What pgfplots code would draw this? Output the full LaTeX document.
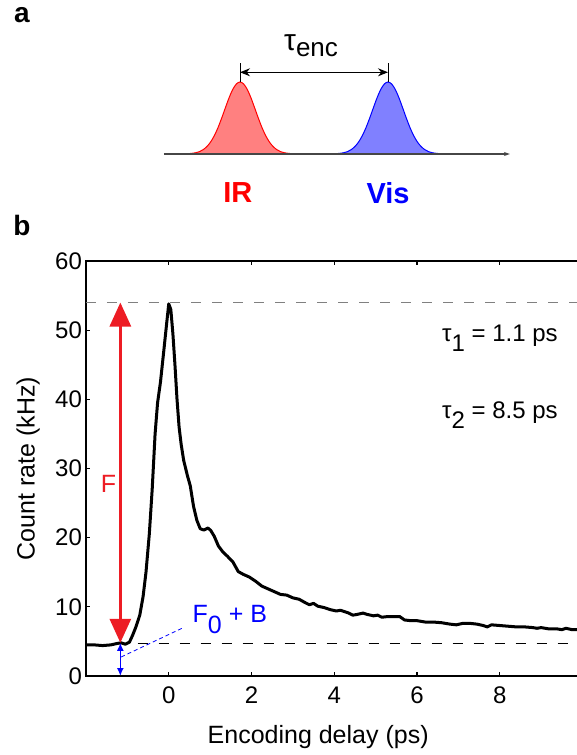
\documentclass[border=0pt]{standalone}
\usepackage{fontspec}
\setmainfont{Liberation Sans}
\usepackage{pgfplots}
\pgfplotsset{compat=1.18}
\usetikzlibrary{arrows.meta}
\definecolor{arrred}{RGB}{237,28,36}
\definecolor{irfill}{RGB}{255,128,128}
\definecolor{visfill}{RGB}{128,128,255}
\definecolor{basegray}{RGB}{70,70,70}
\begin{document}
\begin{tikzpicture}
\path[use as bounding box] (0,0) rectangle (288.5pt,-377.5pt);
\node[font=\bfseries\fontsize{14}{16}\selectfont] at (11pt,-7.5pt) {a};
\node[font=\bfseries\fontsize{14}{16}\selectfont] at (11pt,-112.5pt) {b};
% panel a
\begin{axis}[
  at={(75.6pt,-84.2pt)}, anchor=south west,
  scale only axis, x=74pt, y=36pt,
  xmin=-0.6, xmax=2, ymin=-0.2, ymax=1.5,
  hide axis, clip=false]
\addplot[draw=red, fill=irfill, line width=0.5pt, smooth] coordinates {
(-0.45,0) (-0.4,0.001) (-0.35,0.004) (-0.3,0.017) (-0.275,0.032) (-0.25,0.059) (-0.225,0.101) (-0.2,0.163) (-0.175,0.249) (-0.15,0.360) (-0.125,0.492) (-0.1,0.635) (-0.075,0.775) (-0.05,0.893) (-0.025,0.972) (0,1)
(0.025,0.972) (0.05,0.893) (0.075,0.775) (0.1,0.635) (0.125,0.492) (0.15,0.360) (0.175,0.249) (0.2,0.163) (0.225,0.101) (0.25,0.059) (0.275,0.032) (0.3,0.017) (0.35,0.004) (0.4,0.001) (0.5,0)} \closedcycle;
\addplot[draw=blue, fill=visfill, line width=0.5pt, smooth] coordinates {
(0.5,0) (0.6,0.001) (0.65,0.004) (0.7,0.017) (0.725,0.032) (0.75,0.059) (0.775,0.101) (0.8,0.163) (0.825,0.249) (0.85,0.360) (0.875,0.492) (0.9,0.635) (0.925,0.775) (0.95,0.893) (0.975,0.972) (1,1)
(1.025,0.972) (1.05,0.893) (1.075,0.775) (1.1,0.635) (1.125,0.492) (1.15,0.360) (1.175,0.249) (1.2,0.163) (1.225,0.101) (1.25,0.059) (1.275,0.032) (1.3,0.017) (1.35,0.004) (1.4,0.001) (1.6,0)} \closedcycle;
\addplot[basegray, line width=0.6pt, -{Stealth[length=3pt,width=2pt]}] coordinates {(-0.514,0) (1.824,0)};
\addplot[black, line width=0.5pt] coordinates {(0,1) (0,1.27)};
\addplot[black, line width=0.5pt] coordinates {(1,1) (1,1.27)};
\addplot[black, line width=0.5pt, {Stealth[length=5pt,width=4pt]}-{Stealth[length=5pt,width=4pt]}] coordinates {(0,1.135) (1,1.135)};
\node[anchor=base, inner sep=0, font=\fontsize{15}{17}\selectfont] at (axis cs:0.48,1.44) {τ\raisebox{-3pt}{\fontsize{13}{15}\selectfont enc}};
\node[red, font=\bfseries\fontsize{14.5}{17}\selectfont] at (axis cs:-0.014,-0.54) {IR};
\node[blue, font=\bfseries\fontsize{14.5}{17}\selectfont] at (axis cs:1.0,-0.54) {Vis};
\end{axis}
% panel b
\begin{axis}[
  at={(43pt,-338pt)}, anchor=south west,
  scale only axis, width=247pt, height=207.5pt,
  xmin=-2, xmax=9.94, ymin=0, ymax=60,
  xtick={0,2,4,6,8}, ytick={0,10,20,30,40,50,60},
  ytick pos=left,
  tick align=inside, major tick length=2pt,
  axis line style={line width=0.6pt},
  every tick/.style={line width=0.6pt, black},
  ticklabel style={font=\fontsize{12}{14}\selectfont},
  /pgf/number format/assume math mode=true,
  xticklabel shift=2pt, yticklabel shift=-1.5pt,
  xlabel={Encoding delay (ps)}, ylabel={Count rate (kHz)},
  label style={font=\fontsize{12.5}{15}\selectfont},
  xlabel style={at={(axis description cs:0.47,-0.147)}, anchor=center},
  ylabel style={at={(axis description cs:-0.117,0.5)}, anchor=center},
  clip=false]
\addplot[gray, line width=0.5pt, dash pattern=on 5pt off 5.5pt] coordinates {(-2,54) (9.94,54)};
\addplot[black, line width=0.5pt, dash pattern=on 5pt off 5.5pt] coordinates {(-0.75,4.7) (9.94,4.7)};
\addplot[black, line width=1.5pt, line join=round] coordinates {
(-2.0,4.5) (-1.8,4.5) (-1.6,4.4) (-1.4,4.5) (-1.25,4.7) (-1.15,4.8) (-1.05,4.6) (-0.95,4.9)
(-0.88,5.8) (-0.8,7.0) (-0.7,8.8) (-0.62,11.5) (-0.55,15) (-0.47,20.5) (-0.4,27) (-0.33,35)
(-0.27,39.5) (-0.2,42.5) (-0.12,47) (-0.05,51) (0.0,53.8) (0.05,53) (0.1,49.5) (0.15,45)
(0.2,40) (0.25,36) (0.3,33.5) (0.36,31.2) (0.45,29) (0.52,27.5) (0.6,24.5) (0.68,22.5)
(0.76,21.3) (0.85,21.1) (0.95,21.4) (1.02,21.0) (1.1,20.2) (1.2,18.8) (1.3,18.0) (1.42,17.3)
(1.55,16.5) (1.68,15.1) (1.8,14.7) (1.95,14.3) (2.1,13.7) (2.25,13.0) (2.4,12.6) (2.55,12.2)
(2.7,11.8) (2.85,11.7) (3.0,11.3) (3.15,11.1) (3.3,10.6) (3.4,10.3) (3.5,10.5) (3.6,10.1)
(3.75,9.9) (3.9,9.6) (4.05,9.4) (4.15,9.5) (4.25,9.3) (4.35,9.1) (4.45,8.8) (4.55,8.9)
(4.7,9.1) (4.8,8.9) (4.95,8.7) (5.05,8.8) (5.15,8.5) (5.3,8.6) (5.45,8.6) (5.58,8.6)
(5.7,8.1) (5.85,8.0) (6.0,8.0) (6.2,7.8) (6.4,7.8) (6.6,7.7) (6.8,7.5) (6.95,7.4)
(7.1,7.6) (7.3,7.6) (7.45,7.5) (7.6,7.3) (7.7,7.1) (7.8,7.4) (8.0,7.3) (8.2,7.2)
(8.4,7.1) (8.6,7.1) (8.8,7.0) (8.9,6.9) (9.0,7.0) (9.2,6.8) (9.4,6.8) (9.5,6.7)
(9.6,6.9) (9.75,6.7) (9.94,6.7)};
\addplot[arrred, line width=1.5pt, {Triangle[length=12pt,width=10.5pt]}-{Triangle[length=12pt,width=10.5pt]}] coordinates {(-1.17,4.8) (-1.17,54)};
\addplot[blue, line width=0.8pt, {Latex[length=4pt,width=3.5pt]}-{Latex[length=4pt,width=3.5pt]}] coordinates {(-1.17,0) (-1.17,4.8)};
\addplot[blue, line width=0.4pt, dash pattern=on 2pt off 1.5pt] coordinates {(-1.15,2.75) (0.32,6.9)};
\node[arrred, anchor=base west, inner sep=0, font=\fontsize{12.5}{15}\selectfont] at (axis cs:-1.65,26.6) {F};
\node[blue, anchor=base west, inner sep=0, font=\fontsize{12.5}{15}\selectfont] at (axis cs:0.57,7.7) {F\raisebox{-5.5pt}{0} + B};
\node[anchor=base west, inner sep=0, font=\fontsize{12}{14}\selectfont] at (axis cs:6.6,48.3) {τ\raisebox{-5pt}{1} = 1.1 ps};
\node[anchor=base west, inner sep=0, font=\fontsize{12}{14}\selectfont] at (axis cs:6.6,37.2) {τ\raisebox{-5pt}{2} = 8.5 ps};
\end{axis}
\end{tikzpicture}
\end{document}
